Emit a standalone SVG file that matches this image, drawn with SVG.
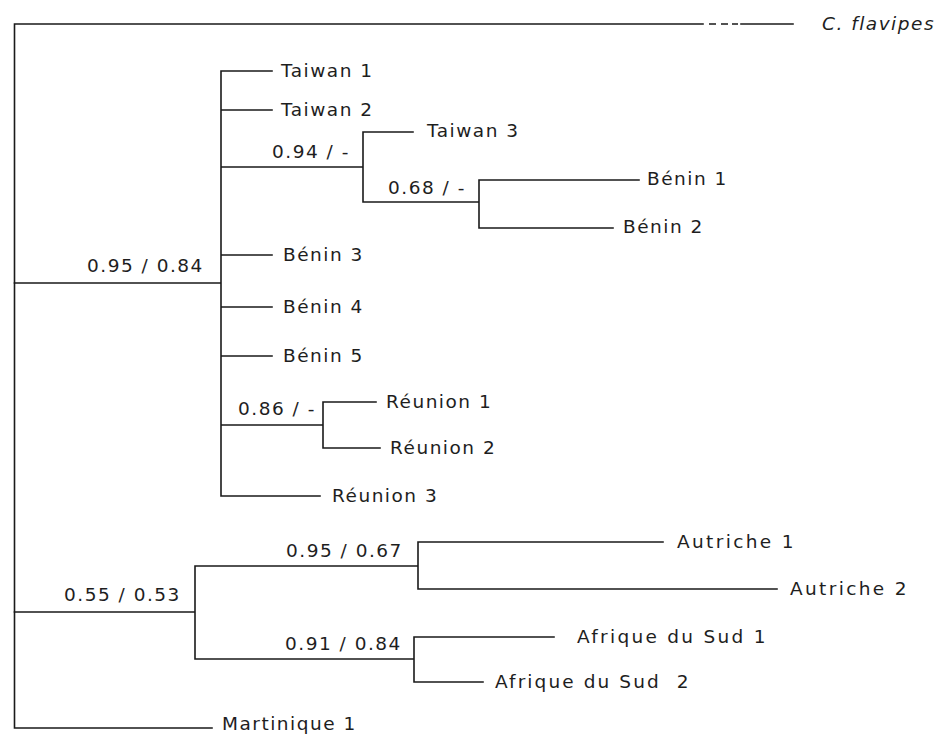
<svg xmlns="http://www.w3.org/2000/svg" width="947" height="735" viewBox="0 0 947 735">
<style>
.e{stroke:#1a1a1a;stroke-width:1.6;fill:none;stroke-linecap:square}
.d{stroke:#1a1a1a;stroke-width:1.3;fill:none;stroke-linecap:butt}
text{font-family:"DejaVu Sans","Liberation Sans",sans-serif;font-size:18.5px;letter-spacing:1.5px;fill:#1e1e1e}
.s{font-style:italic}
</style>
<rect width="947" height="735" fill="#fff"/>
<g id="connectors">
<path class="e" d="M703 24H14.5V728H212"/>
<path class="e" d="M741 24H793"/>
<path class="d" d="M709 24H716M721 24H728M732 24H738"/>
<path class="e" d="M14.5 283H221M221 71V496M221 71H272M221 110H272M221 167H363M363 132V202M363 132H413M363 202H479M479 180V228M479 180H639M479 228H613M221 255H272M221 307H272M221 356H272M221 425H323M323 402V448M323 402H376M323 448H380M221 496H320"/>
<path class="e" d="M14.5 612H195M195 566V659M195 566H418M418 542V589M418 542H663M418 589H777M195 659H414M414 637V682M414 637H554M414 682H483"/>
</g>
<g id="outgroup"><text class="s" x="822" y="30">C. flavipes</text></g>
<g id="taiwan1"><text x="281" y="77">Taiwan 1</text></g>
<g id="taiwan2"><text x="281" y="116">Taiwan 2</text></g>
<g id="taiwan3"><text x="427" y="137">Taiwan 3</text></g>
<g id="benin1"><text x="647" y="185">Bénin 1</text></g>
<g id="benin2"><text x="623" y="233">Bénin 2</text></g>
<g id="benin3"><text x="283" y="261">Bénin 3</text></g>
<g id="benin4"><text x="283" y="313">Bénin 4</text></g>
<g id="benin5"><text x="283" y="362">Bénin 5</text></g>
<g id="reunion1"><text x="386" y="408">Réunion 1</text></g>
<g id="reunion2"><text x="390" y="454">Réunion 2</text></g>
<g id="reunion3"><text x="332" y="502">Réunion 3</text></g>
<g id="autriche1"><text x="677" y="548" textLength="118">Autriche 1</text></g>
<g id="autriche2"><text x="790" y="595" textLength="118">Autriche 2</text></g>
<g id="afrique1"><text x="577" y="643" textLength="190">Afrique du Sud 1</text></g>
<g id="afrique2"><text x="495" y="688" textLength="195" xml:space="preserve">Afrique du Sud  2</text></g>
<g id="martinique1"><text x="222" y="730">Martinique 1</text></g>
<g id="supports">
<text x="87" y="272">0.95 / 0.84</text>
<text x="272" y="158">0.94 / -</text>
<text x="388" y="194">0.68 / -</text>
<text x="238" y="415">0.86 / -</text>
<text x="286" y="557">0.95 / 0.67</text>
<text x="64" y="601">0.55 / 0.53</text>
<text x="285" y="650">0.91 / 0.84</text>
</g>
</svg>
